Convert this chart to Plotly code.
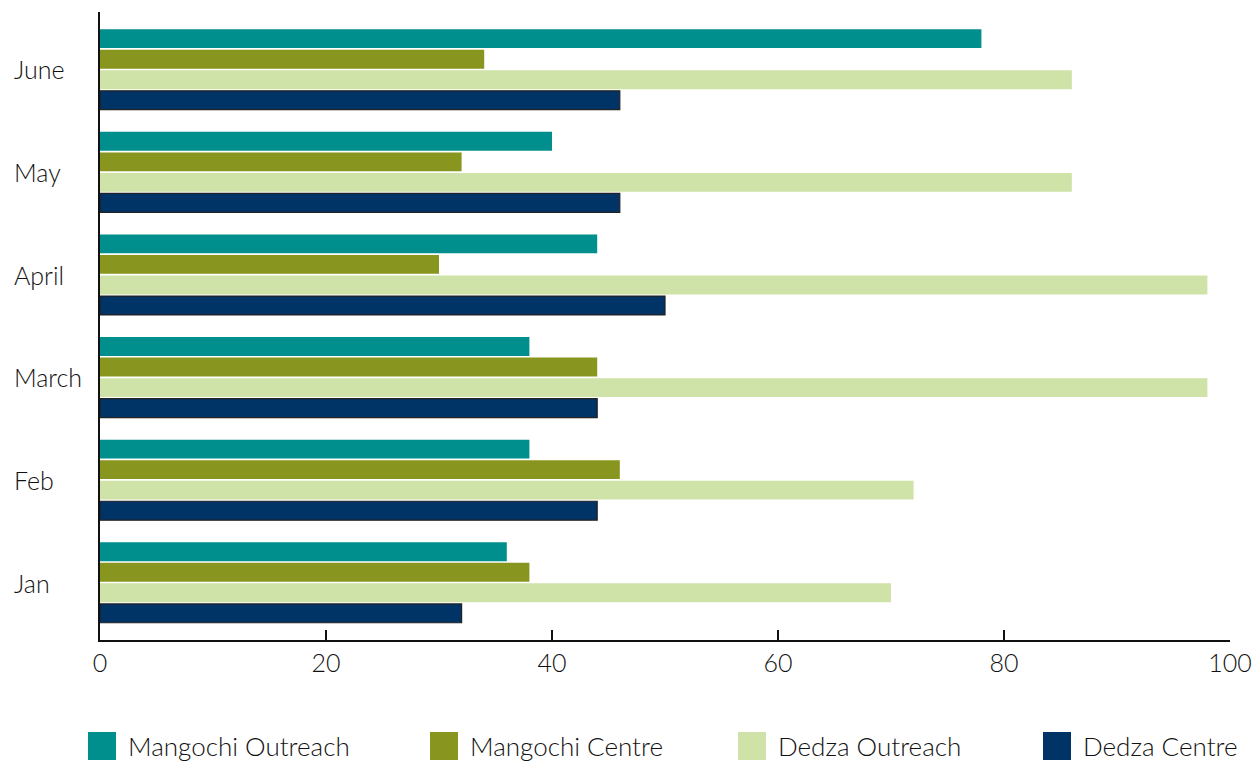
import plotly.graph_objects as go

months = ["Jan", "Feb", "March", "April", "May", "June"]
series_names = ["Mangochi Outreach", "Mangochi Centre", "Dedza Outreach", "Dedza Centre"]
mangochi_outreach = [36, 38, 38, 44, 40, 78]
mangochi_centre = [38, 46, 44, 30, 32, 34]
dedza_outreach = [70, 72, 98, 98, 86, 86]
dedza_centre = [32, 44, 44, 50, 46, 46]
x_ticks = [0, 20, 40, 60, 80, 100]

colors = ["#008F8C", "#88951E", "#CFE3A8", "#003466"]
outlines = [None, None, None, "#222222"]
values = [mangochi_outreach, mangochi_centre, dedza_outreach, dedza_centre]

FONT = "Lato"
FSIZE = 25

fig = go.Figure()
# Plotly draws horizontal grouped bars bottom-to-top, so add the series in reverse
# to get Mangochi Outreach on top within each month.
for name, vals, col, ol in reversed(list(zip(series_names, values, colors, outlines))):
    fig.add_trace(go.Bar(
        y=months, x=vals, name=name, orientation="h",
        marker=dict(color=col, line=dict(color=ol if ol else col, width=1.2 if ol else 0)),
        showlegend=False,
    ))

# Month labels, left-aligned at the edge of the page
for m in months:
    fig.add_annotation(x=-0.078, xref="paper", y=m, yref="y", text=m, showarrow=False,
                       xanchor="left", yanchor="middle",
                       font=dict(family=FONT, size=FSIZE, color="#111111", weight=300))

# Legend: large colour squares with labels along the bottom
legend_x = [88, 430, 738, 1043]
for name, col, lx in zip(series_names, colors, legend_x):
    x0 = (lx - 100) / 1130
    x1 = (lx + 28 - 100) / 1130
    fig.add_shape(type="rect", xref="paper", yref="paper", x0=x0, x1=x1,
                  y0=-(732 - 640) / 628, y1=-(760 - 640) / 628,
                  fillcolor=col, line=dict(width=0))
    fig.add_annotation(x=(lx + 38 - 100) / 1130, xref="paper", y=-(746 - 640) / 628, yref="paper",
                       text=name, showarrow=False, xanchor="left", yanchor="middle",
                       font=dict(family=FONT, size=FSIZE + 1, color="#111111", weight=300))

fig.update_layout(
    width=1258, height=761,
    margin=dict(l=100, r=28, t=12, b=121),
    barmode="group", bargap=0.2, bargroupgap=0.08,
    plot_bgcolor="white", paper_bgcolor="white",
    font=dict(family=FONT, size=FSIZE, color="#111111", weight=300),
    xaxis=dict(range=[0, 100], tickvals=x_ticks, ticks="inside", ticklen=10, tickwidth=2,
               tickcolor="#111111", showline=True, linecolor="#111111", linewidth=2,
               showgrid=False, zeroline=False, automargin=False,
               tickfont=dict(family=FONT, size=FSIZE, weight=300)),
    yaxis=dict(range=[-0.56, 5.56], showticklabels=False, ticks="", showline=True,
               linecolor="#111111", linewidth=2, showgrid=False, zeroline=False,
               automargin=False),
)

fig.write_html("out.html")
